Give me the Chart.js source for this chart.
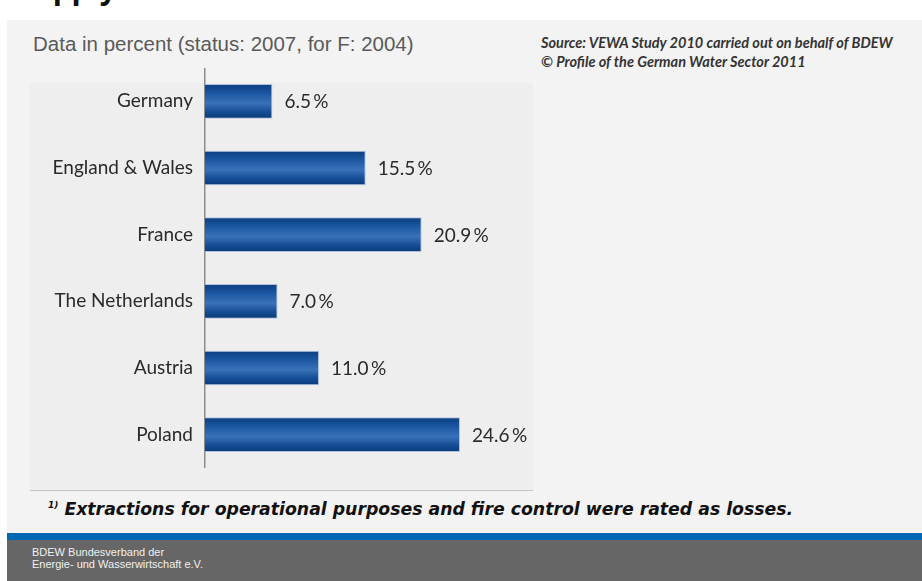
<!DOCTYPE html>
<html>
<head>
<meta charset="utf-8">
<script src="https://cdn.jsdelivr.net/npm/chart.js@4.4.0/dist/chart.umd.min.js"></script>
<style>
  html, body { margin: 0; padding: 0; background: #fff; }
  body { width: 922px; height: 581px; position: relative; overflow: hidden; }
  .abs { position: absolute; }
  #title { left: 18px; top: -27px; font: bold 30px "Open Sans", sans-serif; color: #111; line-height: 30px; }
  #panel { left: 7px; top: 20px; width: 915px; height: 513px; background: #f3f3f3; }
  #inner { left: 30px; top: 83px; width: 503px; height: 407px; background: #eeeeee; border-bottom: 1px solid #c4c4c4; }
  #sub { left: 33px; top: 32px; font: 20.5px "Liberation Sans", Arial, sans-serif; color: #5a5a5a; white-space: nowrap; }
  #source { left: 541px; top: 33px; font: italic bold 14.5px Lato, sans-serif; color: #333; line-height: 19px; white-space: nowrap; }
  #note { left: 48px; top: 499px; font: oblique bold 17.3px "DejaVu Sans", sans-serif; color: #111; white-space: nowrap; }
  #note sup { font-size: 9px; }
  #stripe { left: 7px; top: 533px; width: 915px; height: 7px; background: #0068b3; }
  #foot { left: 7px; top: 540px; width: 915px; height: 41px; background: #666666; }
  #footText { left: 32px; top: 546px; font: 11px "Liberation Sans", Arial, sans-serif; color: #f0f0f0; line-height: 12px; }
  #wrap { left: 30px; top: 68px; width: 503px; height: 400px; }
</style>
</head>
<body>
<div id="title" class="abs">supply</div>
<div id="panel" class="abs"></div>
<div id="inner" class="abs"></div>
<div id="sub" class="abs">Data in percent (status: 2007, for F: 2004)</div>
<div id="source" class="abs">Source: VEWA Study 2010 carried out on behalf of BDEW<br>© Profile of the German Water Sector 2011</div>
<div id="wrap" class="abs"><canvas id="canvas"></canvas></div>
<div id="note" class="abs"><sup>1)</sup> Extractions for operational purposes and fire control were rated as losses.</div>
<div id="stripe" class="abs"></div>
<div id="foot" class="abs"></div>
<div id="footText" class="abs">BDEW Bundesverband der<br>Energie- und Wasserwirtschaft e.V.</div>

<script>
const countries = ['Germany', 'England & Wales', 'France', 'The Netherlands', 'Austria', 'Poland'];
const losses = [6.5, 15.5, 20.9, 7.0, 11.0, 24.6];
const xMax = 30;
const barPct = 0.52;

// vertical shading on each bar: dark edges, lighter middle
function barGradient(context) {
  const chart = context.chart;
  if (!chart.chartArea || !chart.scales.y) return '#1a4f98';
  const y = chart.scales.y.getPixelForValue(context.dataIndex);
  const half = chart.scales.y.height / countries.length * barPct / 2;
  const g = chart.ctx.createLinearGradient(0, y - half, 0, y + half);
  g.addColorStop(0, '#0b3f80');
  g.addColorStop(0.25, '#1a55a0');
  g.addColorStop(0.55, '#3a72b9');
  g.addColorStop(0.8, '#164d96');
  g.addColorStop(1, '#083a78');
  return g;
}

const valueLabels = {
  id: 'valueLabels',
  afterDatasetsDraw(chart) {
    const ctx = chart.ctx;
    const meta = chart.getDatasetMeta(0);
    ctx.save();
    ctx.font = '19px Lato, sans-serif';
    ctx.fillStyle = '#2a2a2a';
    ctx.textAlign = 'left';
    ctx.textBaseline = 'middle';
    meta.data.forEach(function(bar, i) {
      ctx.fillText(losses[i].toFixed(1) + '\u2009%', bar.x + 12, bar.y + 1);
    });
    ctx.restore();
  }
};

var ctx = document.getElementById('canvas').getContext('2d');
const myChart = new Chart(ctx, {
  type: 'bar',
  data: {
    labels: countries,
    datasets: [{
      data: losses,
      backgroundColor: barGradient,
      borderColor: 'rgba(150,175,215,0.7)',
      borderWidth: 1,
      borderSkipped: 'start',
      barPercentage: barPct,
      categoryPercentage: 1
    }]
  },
  options: {
    indexAxis: 'y',
    responsive: true,
    maintainAspectRatio: false,
    animation: false,
    layout: { padding: { right: 17 } },
    plugins: {
      legend: { display: false },
      tooltip: { enabled: false }
    },
    scales: {
      x: { display: false, min: 0, max: xMax },
      y: {
        grid: { display: false, drawTicks: false },
        border: { display: true, color: '#8c8c8c', width: 1.5 },
        ticks: {
          padding: 12,
          color: '#2a2a2a',
          font: { family: 'Lato', size: 19 }
        },
        afterFit: function(scale) {
          // fixed label column, no extra space above/below the categories
          scale.width = 175;
          scale.paddingTop = 0;
          scale.paddingBottom = 0;
        }
      }
    }
  },
  plugins: [valueLabels]
});
</script>
</body>
</html>
